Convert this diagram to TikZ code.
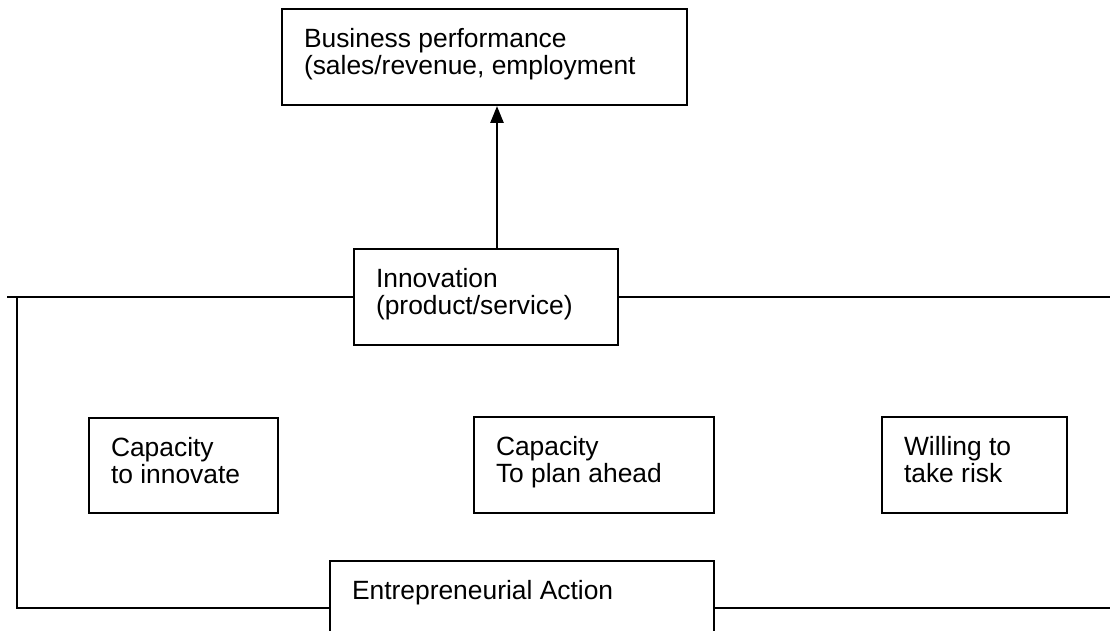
\documentclass[tikz,border=0pt]{standalone}
\usepackage{fontspec}
\setmainfont{Liberation Sans}
\usepackage{tikz}
\usetikzlibrary{arrows.meta}

\begin{document}
\begin{tikzpicture}[x=0.5pt, y=-0.5pt, line width=1pt,
		blk/.style={draw, anchor=north west, inner sep=0pt},
		txt/.style={anchor=north west, inner sep=0pt, xshift=11pt, yshift=-9.5pt, align=left,
			font=\fontsize{13.2}{13.8}\selectfont}]
	\clip (0,0) rectangle (1110,631);
	% boxes
	\node[blk, minimum width=202.5pt, minimum height=48pt] (perf) at (281,8) {};
	\node[blk, minimum width=132pt, minimum height=48pt] (innov) at (353,248) {};
	\node[blk, minimum width=94.5pt, minimum height=47.5pt] (capinn) at (88,417) {};
	\node[blk, minimum width=120pt, minimum height=48pt] (capplan) at (473,416) {};
	\node[blk, minimum width=92.5pt, minimum height=48pt] (risk) at (881,416) {};
	\node[blk, minimum width=192pt, minimum height=60pt] (entre) at (329,560) {};
	% texts
	\node[txt] (perf-t) at (perf.north west) {Business performance\\(sales/revenue, employment};
	\node[txt] (innov-t) at (innov.north west) {Innovation\\(product/service)};
	\node[txt] (capinn-t) at (capinn.north west) {Capacity\\to innovate};
	\node[txt] (capplan-t) at (capplan.north west) {Capacity\\To plan ahead};
	\node[txt] (risk-t) at (risk.north west) {Willing to\\take risk};
	\node[txt] (entre-t) at (entre.north west) {Entrepreneurial Action};
	% frame lines
	\coordinate (tl) at (7,297);
	\coordinate (lc) at (17,297);
	\coordinate (lb) at (17,608);
	\coordinate (rt) at (1110,297);
	\coordinate (rb) at (1110,608);
	\coordinate (arr) at (497,248);
	\draw (tl) -- (tl -| innov.west);
	\draw (rt -| innov.east) -- (rt);
	\draw (lc) -- (lb) -- (lb -| entre.west);
	\draw (rb -| entre.east) -- (rb);
	\draw[line width=1.3pt, -{Triangle[width=6.5pt, length=8.5pt]}] (arr) -- (arr |- perf.south);
\end{tikzpicture}
\end{document}
